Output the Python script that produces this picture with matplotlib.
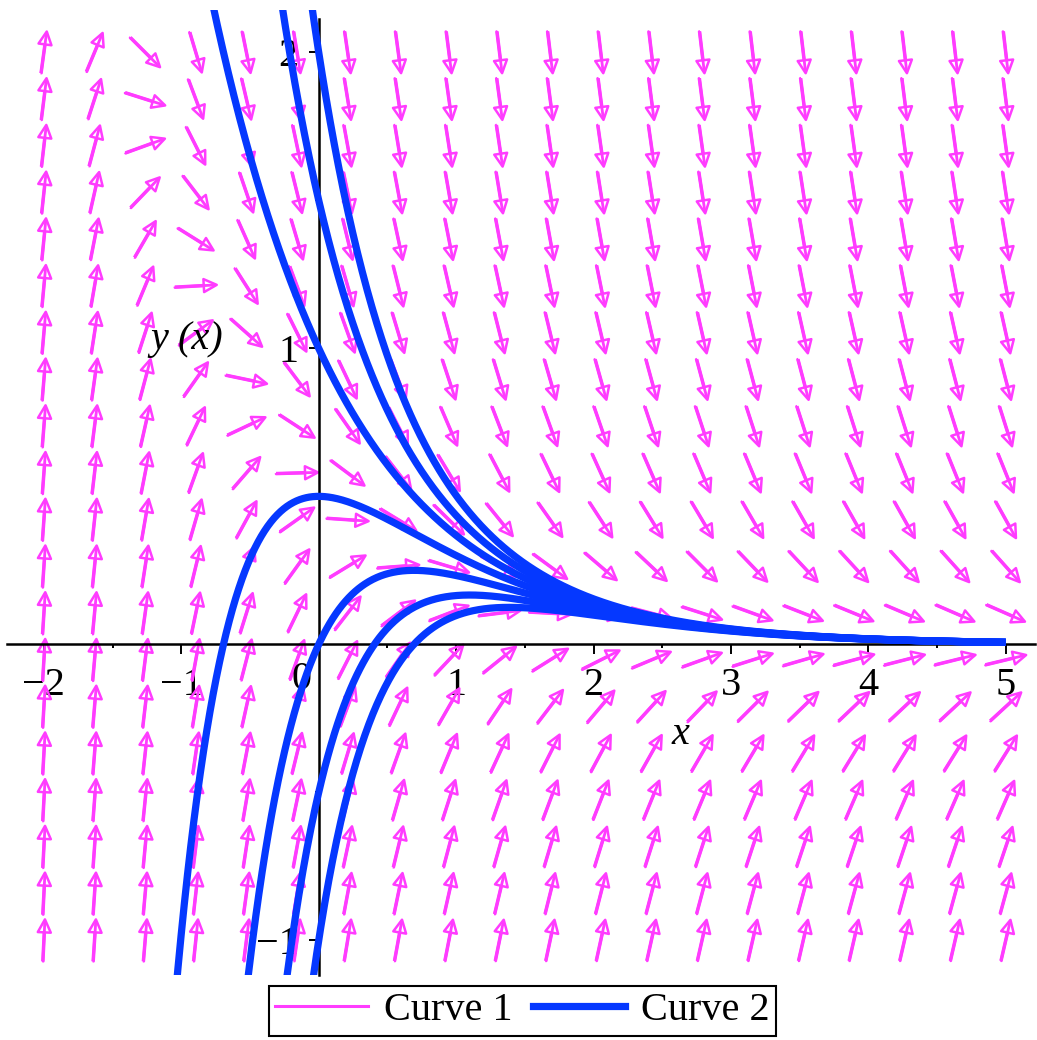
import numpy as np
import matplotlib
matplotlib.use("Agg")
import matplotlib.pyplot as plt
from matplotlib.lines import Line2D

# ODE: y' = exp(-x) - 2*y   (direction field + solution curves)
x_range = (-2.0, 5.0)
y_range = (-1.0, 2.0)
grid_n = (20, 20)
initial_values = [-1.0, -0.5, 0.0, 0.5, 1.0, 1.5, 2.0]   # y(0)
x_ticks = [-2, -1, 1, 2, 3, 4, 5]
x_minor = [-1.5, -0.5, 0.5, 1.5, 2.5, 3.5, 4.5]
y_ticks = [-1, 1, 2]
y_minor = [-0.5, 0.5, 1.5]
legend_labels = ["Curve 1", "Curve 2"]

ARROW_C = "#FF3CFF"
CURVE_C = "#0538FF"
FS = 29

def slope(x, y):
    return np.exp(-x) - 2.0 * y

def solution(x, y0):
    return np.exp(-x) + (y0 - 1.0) * np.exp(-2.0 * x)

plt.rcParams['font.family'] = ['Liberation Serif', 'DejaVu Serif']

W, H = 1037, 1040
fig = plt.figure(figsize=(W / 100, H / 100), dpi=100)
ax = fig.add_axes([7 / W, 1 - 975 / H, (1035 - 7) / W, (975 - 10) / H])
ax.set_xlim(-2.2686, 5.213)
ax.set_ylim(-1.117, 2.143)

# direction field
gx = np.linspace(x_range[0], x_range[1], grid_n[0])
gy = np.linspace(y_range[0], y_range[1], grid_n[1])
X, Y = np.meshgrid(gx, gy)
S = slope(X, Y)
eps = 1e-3
p0 = ax.transData.transform(np.column_stack([X.ravel(), Y.ravel()]))
p1 = ax.transData.transform(np.column_stack([X.ravel() + eps, Y.ravel() + eps * S.ravel()]))
d = p1 - p0
theta = np.arctan2(d[:, 1], d[:, 0]).reshape(X.shape)
U = np.cos(theta)
V = np.sin(theta)
L = 42.0
ax.quiver(X, Y, U, V, angles='uv', scale_units='dots', scale=1 / L, pivot='middle',
          units='dots', width=2.8, headwidth=1, headlength=1, headaxislength=1,
          color=ARROW_C, zorder=2)
ax.quiver(X, Y, U, V, angles='uv', scale_units='dots', scale=1 / L, pivot='middle',
          units='dots', width=1.0, headwidth=13, headlength=13, headaxislength=13,
          facecolor='none', edgecolor=ARROW_C, linewidth=1.8, zorder=2)

# solution curves
xs = np.linspace(x_range[0], x_range[1], 1200)
for y0 in initial_values:
    ax.plot(xs, solution(xs, y0), color=CURVE_C, lw=5.2, solid_capstyle='butt', zorder=4)

# axes through origin
for s in ['top', 'right']:
    ax.spines[s].set_visible(False)
ax.spines['left'].set_position(('data', 0))
ax.spines['bottom'].set_position(('data', 0))
ax.spines['left'].set_bounds(-1.117, 2.113)
for s in ['left', 'bottom']:
    ax.spines[s].set_linewidth(1.8)
    ax.spines[s].set_zorder(3)

ax.set_xticks(x_ticks)
ax.set_xticklabels([str(v).replace('-', '\u2212') for v in x_ticks])
ax.set_xticks(x_minor, minor=True)
ax.set_yticks(y_ticks)
ax.set_yticklabels([str(v).replace('-', '\u2212') for v in y_ticks])
ax.set_yticks(y_minor, minor=True)
ax.tick_params(which='major', direction='out', length=7.5, width=1.4, labelsize=FS)
ax.tick_params(which='minor', direction='out', length=3.2, width=1.4)
ax.tick_params(axis='x', which='major', pad=9)
ax.tick_params(axis='y', which='major', pad=7)
ax.annotate("0", xy=(0, 0), xytext=(-17, -17), textcoords='offset pixels',
            ha='center', va='top', fontsize=FS)

ax.text(2.63, -0.306, "x", fontsize=FS, style='italic', ha='center', va='center')
ax.text(-0.96, 1.03, "y (x)", fontsize=FS, style='italic', ha='center', va='center')

handles = [Line2D([], [], color=ARROW_C, lw=2.2), Line2D([], [], color=CURVE_C, lw=5.2)]
leg = fig.legend(handles, legend_labels, loc='center', bbox_to_anchor=(0.504, 0.028),
                 ncol=2, frameon=True, fancybox=False, edgecolor='black', framealpha=1,
                 fontsize=FS, handlelength=2.3, handletextpad=0.4, columnspacing=0.5,
                 borderpad=0.15, borderaxespad=0)
leg.get_frame().set_linewidth(1.5)

fig.savefig("out.png", dpi=100)
